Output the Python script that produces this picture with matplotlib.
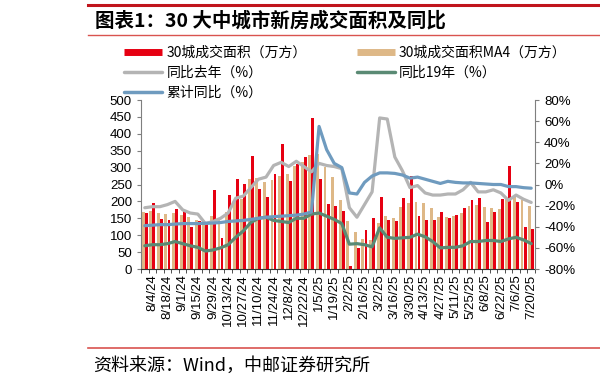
"""
30 大中城市新房成交面积及同比
"""

import pandas as pd
import matplotlib
matplotlib.use("Agg")
import matplotlib.pyplot as plt
from matplotlib.lines import Line2D
from matplotlib.ticker import FuncFormatter, MultipleLocator

plt.rcParams['font.family'] = ['Noto Sans CJK SC', 'DejaVu Sans']

# weekly categories, 7/28/24 .. 7/20/25
weeks = pd.date_range('2024-07-28', '2025-07-20', freq='7D')
week_labels = [f"{d.month}/{d.day}/{d.strftime('%y')}" for d in weeks]

# 30城成交面积（万方）
area = [167, 196, 148, 145, 177, 174, 124, 141, 136, 234, 92, 219, 266, 252,
        333, 238, 214, 280, 370, 259, 310, 330, 448, 265, 192, 186, 173, 10,
        62, 116, 151, 214, 145, 142, 209, 274, 156, 145, 145, 168, 152, 160,
        181, 203, 209, 138, 170, 206, 304, 199, 125, 118]
# 30城成交面积MA4（万方）
area_ma4 = [170, 172, 167, 164, 166, 161, 155, 146, 143, 157, 144, 170, 204,
            207, 266, 270, 258, 264, 275, 281, 305, 318, 336, 339, 302, 272,
            205, 141, 108, 89, 86, 136, 157, 150, 182, 196, 199, 196, 180,
            154, 153, 156, 166, 185, 188, 183, 180, 178, 210, 214, 205, 186]
# 同比去年（%）
yoy_last = [-22, -21, -21, -19, -16, -24, -27, -28, -37, -35, -32, -27, -13,
            -11, -3, 5, 7, 18, 21, 17, 22, 17, 12, 20, 18, 17, 15, -22, -31,
            -19, -7, 63, 62, 26, 13, -3, -1, -8, -10, -10, -9, -9, -5, 2, -7,
            -7, -5, -8, -15, -10, -14, -17]
# 同比19年（%）
yoy_2019 = [-58, -57, -57, -56, -54, -56, -58, -59.5, -63, -62, -60, -57, -50,
            -44, -36, -32, -31, -34, -35, -36, -32, -32, -28, -27, -30, -33,
            -37, -56.5, -56, -57, -59, -41, -50, -51, -50.5, -50, -47, -49.5,
            -54, -60, -59.5, -59.5, -58, -54, -54, -53, -53, -54, -51.5, -50,
            -52.5, -56]
# 累计同比（%）
yoy_cum = [-39, -38.5, -38, -38, -37.5, -37, -37, -37, -36.7, -36.5, -36, -35,
           -34.5, -34, -33, -32, -31, -30.5, -30, -29.5, -29, -28, -26, 55, 33,
           20, 16, -8, -9, 2, 8, 11, 11, 10.5, 9, 6, 7, 5, 3, 1, 3, 2, 1.5,
           1.5, 1, 0.5, 0, 0, -2, -2, -3, -3.5]

RED = '#E60012'
TAN = '#DEB887'
GRAY = '#B4B4B4'
GREEN = '#5A8A74'
BLUE = '#6F9BBF'
TICK_FONT = 'Liberation Sans'


def main():
    fig = plt.figure(figsize=(6, 3.87), dpi=100)
    W, H = 600, 387
    ax = fig.add_axes([141 / W, 1 - 269 / H, (535 - 141) / W, (269 - 100) / H])
    ax2 = ax.twinx()

    x = list(range(len(weeks)))
    ax.bar([i - 0.21 for i in x], area_ma4, width=0.38, color=TAN, zorder=2)
    ax.bar([i + 0.19 for i in x], area, width=0.38, color=RED, zorder=3)

    ax2.plot(x, yoy_last, color=GRAY, lw=2.3, solid_capstyle='round')
    ax2.plot(x, yoy_2019, color=GREEN, lw=2.3, solid_capstyle='round')
    ax2.plot(x, yoy_cum, color=BLUE, lw=2.3, solid_capstyle='round')

    ax.set_xlim(-0.5, len(weeks) - 0.5)
    ax.set_ylim(0, 500)
    ax2.set_ylim(-80, 80)
    ax.yaxis.set_major_locator(MultipleLocator(50))
    ax2.yaxis.set_major_locator(MultipleLocator(20))
    ax2.yaxis.set_major_formatter(FuncFormatter(lambda v, p: f"{v:.0f}%"))

    # labels every other week, tick marks at category boundaries
    ax.set_xticks(x[1::2])
    ax.set_xticklabels(week_labels[1::2], rotation=90, fontsize=9.5,
                       family=TICK_FONT)
    ax.set_xticks([i - 0.5 for i in range(len(weeks) + 1)], minor=True)
    ax.tick_params(axis='x', which='major', length=0, pad=4)
    ax.tick_params(axis='x', which='minor', length=3, color='#333333')

    for a in (ax, ax2):
        a.spines['top'].set_visible(False)
        a.spines['left'].set_color('#7F7F7F')
        a.spines['right'].set_color('#7F7F7F')
        a.spines['bottom'].set_color('#333333')
        a.tick_params(axis='y', length=3, color='#7F7F7F', labelsize=9.5)
    for lab in ax.get_yticklabels() + ax2.get_yticklabels():
        lab.set_family(TICK_FONT)
    ax.spines['right'].set_visible(False)
    ax2.spines['left'].set_visible(False)
    ax2.spines['bottom'].set_visible(False)

    # legend
    handles = [
        Line2D([], [], color=RED, lw=5, solid_capstyle='butt'),
        Line2D([], [], color=GRAY, lw=2.5, solid_capstyle='round'),
        Line2D([], [], color=BLUE, lw=2.5, solid_capstyle='round'),
        Line2D([], [], color=TAN, lw=5, solid_capstyle='butt'),
        Line2D([], [], color=GREEN, lw=2.5, solid_capstyle='round'),
    ]
    labels = ['30城成交面积（万方）', '同比去年（%）', '累计同比（%）',
              '30城成交面积MA4（万方）', '同比19年（%）']
    fig.legend(handles, labels, loc='upper left', ncol=2, frameon=False,
               bbox_to_anchor=(124 / W, 1 - 46 / H), fontsize=10,
               handlelength=2.75, handletextpad=0.3, labelspacing=0.43,
               columnspacing=3.6, borderaxespad=0, borderpad=0)

    # header / footer
    fig.add_artist(Line2D([88 / W, 1], [1 - 4.5 / H] * 2, color='#C0141C', lw=2.2))
    fig.add_artist(Line2D([88 / W, 1], [1 - 34.5 / H] * 2, color='#D9534F', lw=1))
    fig.add_artist(Line2D([88 / W, 1], [1 - 348 / H] * 2, color='#D9534F', lw=1.2))
    fig.text(95 / W, 1 - 21 / H, '图表1：30 大中城市新房成交面积及同比',
             fontsize=14, fontweight='bold', va='center')
    fig.text(93 / W, 1 - 366 / H, '资料来源：Wind，中邮证券研究所',
             fontsize=13, va='center')

    fig.savefig('out.png', dpi=100)


if __name__ == "__main__":
    main()
